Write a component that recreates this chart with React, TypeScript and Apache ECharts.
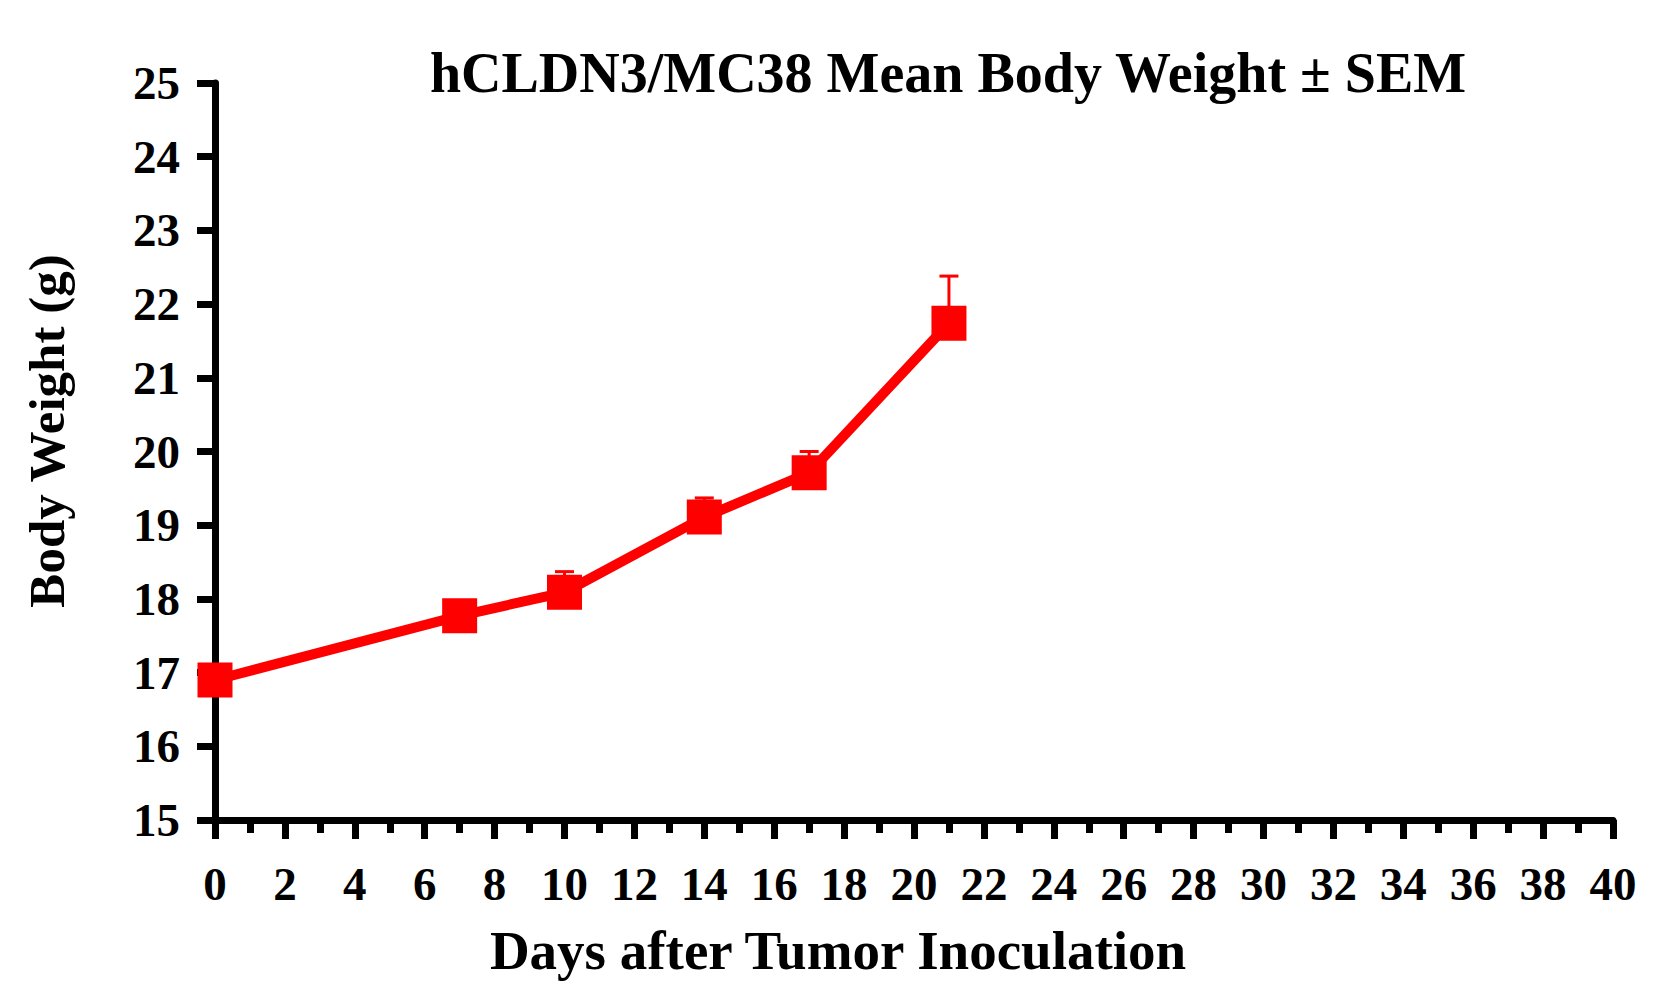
import * as echarts from 'echarts';
import { useEffect, useRef } from 'react';

const DAYS = [0, 7, 10, 14, 17, 21];
const MEAN_WEIGHT = [16.9, 17.77, 18.09, 19.11, 19.71, 21.74];
const SEM = [0.1, 0.15, 0.28, 0.26, 0.29, 0.64];

const TITLE = 'hCLDN3/MC38 Mean Body Weight ± SEM';
const X_NAME = 'Days after Tumor Inoculation';
const Y_NAME = 'Body Weight (g)';

const RED = '#ff0000';
const INK = '#000000';
const SERIF = '"Liberation Serif", "Times New Roman", serif';

export default function App() {
  const ref = useRef<HTMLDivElement | null>(null);

  useEffect(() => {
    document.body.style.margin = '0';
    if (!ref.current) return undefined;
    const chart = echarts.init(ref.current, undefined, { renderer: 'svg' });

    const lineData = DAYS.map((d, i) => [d, MEAN_WEIGHT[i]]);
    // upper error bar only, like the original figure
    const errData = DAYS.map((d, i) => [d, MEAN_WEIGHT[i], MEAN_WEIGHT[i] + SEM[i]]);

    chart.setOption({
      animation: false,
      grid: { left: 215, right: 65, top: 83, bottom: 174 },
      graphic: [
        {
          type: 'text',
          x: 948,
          y: 73,
          style: {
            text: TITLE,
            fill: INK,
            font: `bold 56px ${SERIF}`,
            textAlign: 'center',
            textVerticalAlign: 'middle',
          },
        },
        {
          type: 'text',
          x: 838,
          y: 950,
          style: {
            text: X_NAME,
            fill: INK,
            font: `bold 55px ${SERIF}`,
            textAlign: 'center',
            textVerticalAlign: 'middle',
          },
        },
        {
          type: 'text',
          x: 47,
          y: 431,
          rotation: Math.PI / 2,
          style: {
            text: Y_NAME,
            fill: INK,
            font: `bold 51px ${SERIF}`,
            textAlign: 'center',
            textVerticalAlign: 'middle',
          },
        },
      ],
      xAxis: {
        type: 'value',
        min: 0,
        max: 40,
        interval: 2,
        axisLine: { show: true, lineStyle: { color: INK, width: 7 } },
        axisTick: { show: true, length: 19, lineStyle: { color: INK, width: 7 } },
        minorTick: { show: true, splitNumber: 2, length: 13, lineStyle: { color: INK, width: 7 } },
        splitLine: { show: false },
        minorSplitLine: { show: false },
        axisLabel: {
          color: INK,
          fontSize: 47,
          fontWeight: 'bold',
          fontFamily: SERIF,
          margin: 40,
        },
      },
      yAxis: {
        type: 'value',
        min: 15,
        max: 25,
        interval: 1,
        axisLine: { show: true, lineStyle: { color: INK, width: 7 } },
        axisTick: { show: true, length: 18, lineStyle: { color: INK, width: 7 } },
        splitLine: { show: false },
        axisLabel: {
          color: INK,
          fontSize: 47,
          fontWeight: 'bold',
          fontFamily: SERIF,
          margin: 35,
        },
      },
      series: [
        {
          type: 'custom',
          z: 1,
          data: errData,
          encode: { x: 0, y: [1, 2] },
          renderItem: (_params: unknown, api: any) => {
            const x = api.value(0);
            const base = api.coord([x, api.value(1)]);
            const top = api.coord([x, api.value(2)]);
            const half = 9.5;
            const style = { stroke: RED, lineWidth: 3 };
            return {
              type: 'group',
              children: [
                { type: 'line', shape: { x1: base[0], y1: base[1], x2: top[0], y2: top[1] }, style },
                { type: 'line', shape: { x1: top[0] - half, y1: top[1], x2: top[0] + half, y2: top[1] }, style },
              ],
            };
          },
        },
        {
          type: 'line',
          z: 3,
          data: lineData,
          symbol: 'rect',
          symbolSize: 35,
          showSymbol: true,
          lineStyle: { color: RED, width: 10 },
          itemStyle: { color: RED },
        },
      ],
    });

    return () => {
      chart.dispose();
    };
  }, []);

  return <div ref={ref} style={{ width: 1678, height: 994 }} />;
}
